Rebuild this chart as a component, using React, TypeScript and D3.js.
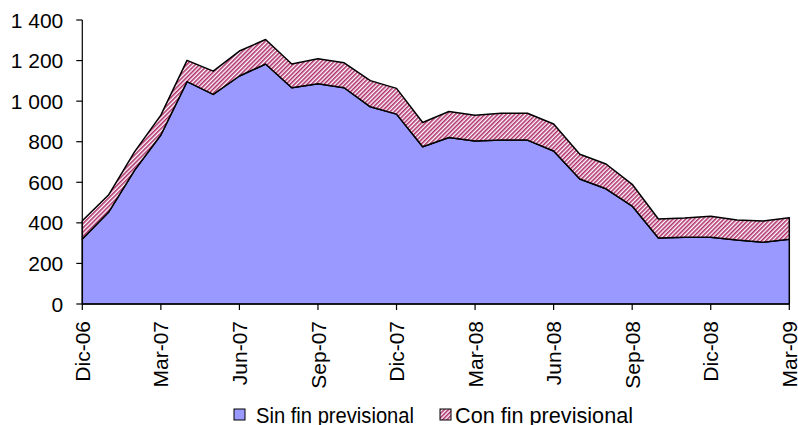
import React from "react";
import * as d3 from "d3";

const months = [
  "Dic-06","Ene-07","Feb-07","Mar-07","Abr-07","May-07","Jun-07","Jul-07","Ago-07","Sep-07","Oct-07","Nov-07",
  "Dic-07","Ene-08","Feb-08","Mar-08","Abr-08","May-08","Jun-08","Jul-08","Ago-08","Sep-08","Oct-08","Nov-08",
  "Dic-08","Ene-09","Feb-09","Mar-09",
];
const sinFin = [320, 452, 660, 833, 1096, 1033, 1124, 1183, 1066, 1086, 1066, 972, 936, 775, 821, 803, 808, 808, 754, 616, 568, 483, 325, 329, 329, 315, 304, 319];
const conFin = [90, 85, 91, 98, 105, 115, 123, 121, 117, 123, 123, 129, 127, 120, 128, 128, 132, 132, 133, 122, 122, 107, 94, 95, 103, 99, 105, 106];
const yTicks = [0, 200, 400, 600, 800, 1000, 1200, 1400];
const seriesNames = ["Sin fin previsional", "Con fin previsional"];

const W = 798, H = 425;
const left = 82.3, right = 789.3, top = 20, bottom = 304;
const FONT = "'Liberation Sans', Arial, sans-serif";

export default function App() {
  const x = d3.scaleLinear().domain([0, months.length - 1]).range([left, right]);
  const y = d3.scaleLinear().domain([0, 1400]).range([bottom, top]);
  const rows = months.map((m, i) => ({ i, sin: sinFin[i], con: conFin[i] }));
  const stack = d3.stack<any>().keys(["sin", "con"]);
  const layers = stack(rows);
  const area = d3
    .area<any>()
    .x((d) => x(d.data.i))
    .y0((d) => y(d[0]))
    .y1((d) => y(d[1]));
  const fmt = d3.formatLocale({ decimal: ",", thousands: " ", grouping: [3], currency: ["", ""] }).format(",d");
  const xTickIdx = months.map((_, i) => i).filter((i) => i % 3 === 0);

  return (
    <svg width={W} height={H} style={{ position: "absolute", left: 0, top: 0 }} fontFamily={FONT}>
      <defs>
        <pattern id="hatch" patternUnits="userSpaceOnUse" width={3} height={3} patternTransform="rotate(45)">
          <rect width={3} height={3} fill="#ffffff" />
          <rect x={0} y={0} width={1.6} height={3} fill="#B0306C" />
        </pattern>
      </defs>
      <rect width={W} height={H} fill="#fff" />
      <path d={area(layers[0] as any) || ""} fill="#9999FF" stroke="#000" strokeWidth={1.5} strokeLinejoin="round" />
      <path d={area(layers[1] as any) || ""} fill="url(#hatch)" stroke="#000" strokeWidth={1.5} strokeLinejoin="round" />
      {/* y axis */}
      <line x1={left} x2={left} y1={top} y2={bottom} stroke="#000" strokeWidth={1.2} />
      {yTicks.map((t) => (
        <g key={t}>
          <line x1={left - 6} x2={left} y1={y(t)} y2={y(t)} stroke="#000" strokeWidth={1.2} />
          <text x={left - 19} y={y(t)} dy="0.36em" textAnchor="end" fontSize={21} fill="#000">
            {fmt(t)}
          </text>
        </g>
      ))}
      {/* x axis */}
      <line x1={left} x2={right} y1={bottom} y2={bottom} stroke="#000" strokeWidth={1.2} />
      {xTickIdx.map((i) => (
        <g key={i}>
          <line x1={x(i)} x2={x(i)} y1={bottom} y2={bottom + 6} stroke="#000" strokeWidth={1.2} />
          <text
            transform={`translate(${x(i)},${bottom + 17}) rotate(-90)`}
            dy="0.36em"
            textAnchor="end"
            fontSize={21}
            fill="#000"
          >
            {months[i]}
          </text>
        </g>
      ))}
      {/* legend */}
      <rect x={234} y={409} width={11} height={11} fill="#9999FF" stroke="#000" strokeWidth={1} />
      <text x={256} y={423} fontSize={22} fill="#000" textLength={158} lengthAdjust="spacingAndGlyphs">{seriesNames[0]}</text>
      <rect x={440} y={409} width={11} height={11} fill="url(#hatch)" stroke="#000" strokeWidth={1} />
      <text x={455} y={423} fontSize={22} fill="#000" textLength={178} lengthAdjust="spacingAndGlyphs">{seriesNames[1]}</text>
    </svg>
  );
}
